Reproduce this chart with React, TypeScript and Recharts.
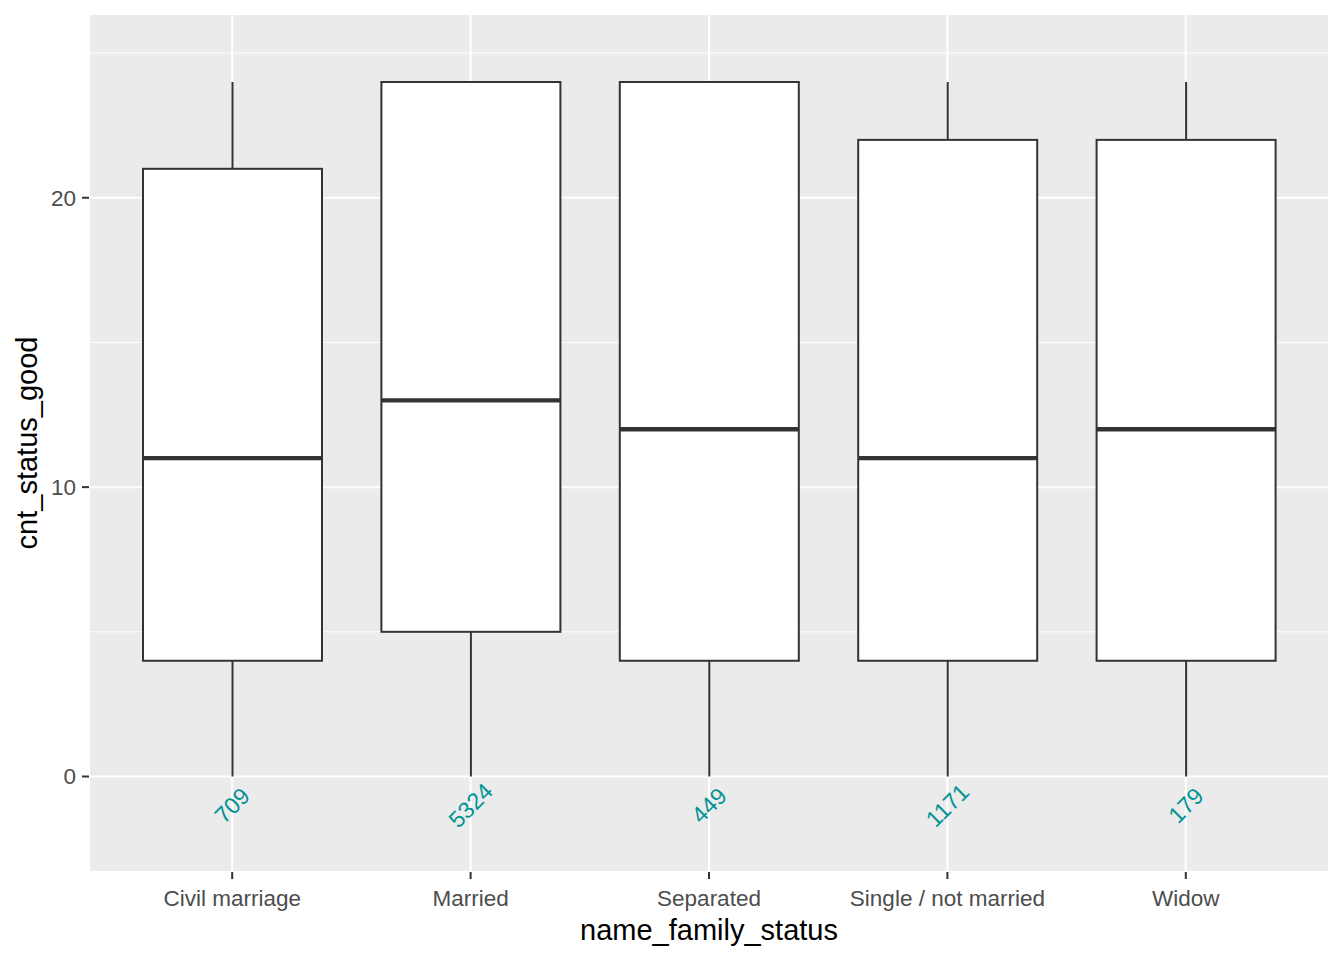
import React from "react";
import {
  Bar,
  CartesianGrid,
  ComposedChart,
  Scatter,
  XAxis,
  YAxis,
} from "recharts";

// boxplot pro Familienstand
const kategorien = ["Civil marriage", "Married", "Separated", "Single / not married", "Widow"];
const whiskerUnten = [0, 0, 0, 0, 0];
const whiskerOben = [24, 24, 24, 24, 24];
const q1 = [4, 5, 4, 4, 4];
const median = [11, 13, 12, 11, 12];
const q3 = [21, 24, 24, 22, 22];
const anzahl = [709, 5324, 449, 1171, 179];
const labelPos = -1;

const FONT = "'Liberation Sans', Arial, sans-serif";
const LINIE = "#333333";

const daten = kategorien.map((k, i) => ({
  status: k,
  whisker: [whiskerUnten[i], whiskerOben[i]],
  q1: q1[i],
  median: median[i],
  q3: q3[i],
  n: anzahl[i],
  labelY: labelPos,
}));

function BoxShape(props: any) {
  const { x, y, width, height, payload } = props;
  const [lo, hi] = payload.whisker;
  const top = Math.min(y, y + height);
  const h = Math.abs(height);
  const k = h / (hi - lo);
  const py = (v: number) => top + (hi - v) * k;
  const cx = x + width / 2;
  return (
    <g>
      <line x1={cx} x2={cx} y1={py(hi)} y2={py(payload.q3)} stroke={LINIE} strokeWidth={2} />
      <line x1={cx} x2={cx} y1={py(payload.q1)} y2={py(lo)} stroke={LINIE} strokeWidth={2} />
      <rect
        x={x}
        y={py(payload.q3)}
        width={width}
        height={py(payload.q1) - py(payload.q3)}
        fill="#FFFFFF"
        stroke={LINIE}
        strokeWidth={2}
      />
      <line x1={x} x2={x + width} y1={py(payload.median)} y2={py(payload.median)} stroke={LINIE} strokeWidth={4.3} />
    </g>
  );
}

function AnzahlLabel(props: any) {
  const { cx, cy, payload } = props;
  return (
    <text
      x={cx}
      y={cy}
      transform={`rotate(-45, ${cx}, ${cy})`}
      textAnchor="middle"
      dominantBaseline="central"
      fill="#009393"
      fontSize={23}
      fontFamily={FONT}
    >
      {payload.n}
    </text>
  );
}

export default function App() {
  return (
    <div style={{ position: "absolute", left: 0, top: 0, background: "#FFFFFF" }}>
      <ComposedChart
        width={1344}
        height={960}
        data={daten}
        margin={{ top: 14, right: 15, bottom: 0, left: 0 }}
      >
        <CartesianGrid
          fill="#EBEBEB"
          stroke="#FFFFFF"
          strokeWidth={1}
          vertical={false}
          horizontalValues={[5, 15, 25]}
        />
        <CartesianGrid stroke="#FFFFFF" strokeWidth={2} />
        <XAxis
          dataKey="status"
          height={88}
          padding={{ left: 24, right: 24 }}
          axisLine={false}
          tickLine={{ stroke: LINIE, strokeWidth: 2 }}
          tickSize={7}
          tickMargin={11}
          interval={0}
          tick={{ fill: "#4D4D4D", fontSize: 22.5, fontFamily: FONT }}
          label={{
            content: (p: any) => (
              <text
                x={p.viewBox.x + p.viewBox.width / 2}
                y={p.viewBox.y + p.viewBox.height - 20}
                textAnchor="middle"
                fill="#000000"
                fontSize={29}
                fontFamily={FONT}
              >
                name_family_status
              </text>
            ),
          }}
        />
        <YAxis
          type="number"
          width={89}
          domain={[-3.3, 26.35]}
          allowDataOverflow
          ticks={[0, 10, 20]}
          axisLine={false}
          tickLine={{ stroke: LINIE, strokeWidth: 2 }}
          tickSize={7}
          tickMargin={6}
          tick={{ fill: "#4D4D4D", fontSize: 22.5, fontFamily: FONT }}
          label={{
            content: (p: any) => {
              const tx = 37;
              const ty = p.viewBox.y + p.viewBox.height / 2;
              return (
                <text
                  x={tx}
                  y={ty}
                  transform={`rotate(-90, ${tx}, ${ty})`}
                  textAnchor="middle"
                  fill="#000000"
                  fontSize={29}
                  fontFamily={FONT}
                >
                  cnt_status_good
                </text>
              );
            },
          }}
        />
        <Bar dataKey="whisker" barSize={179} shape={BoxShape} isAnimationActive={false} />
        <Scatter dataKey="labelY" shape={AnzahlLabel} isAnimationActive={false} legendType="none" />
      </ComposedChart>
    </div>
  );
}
